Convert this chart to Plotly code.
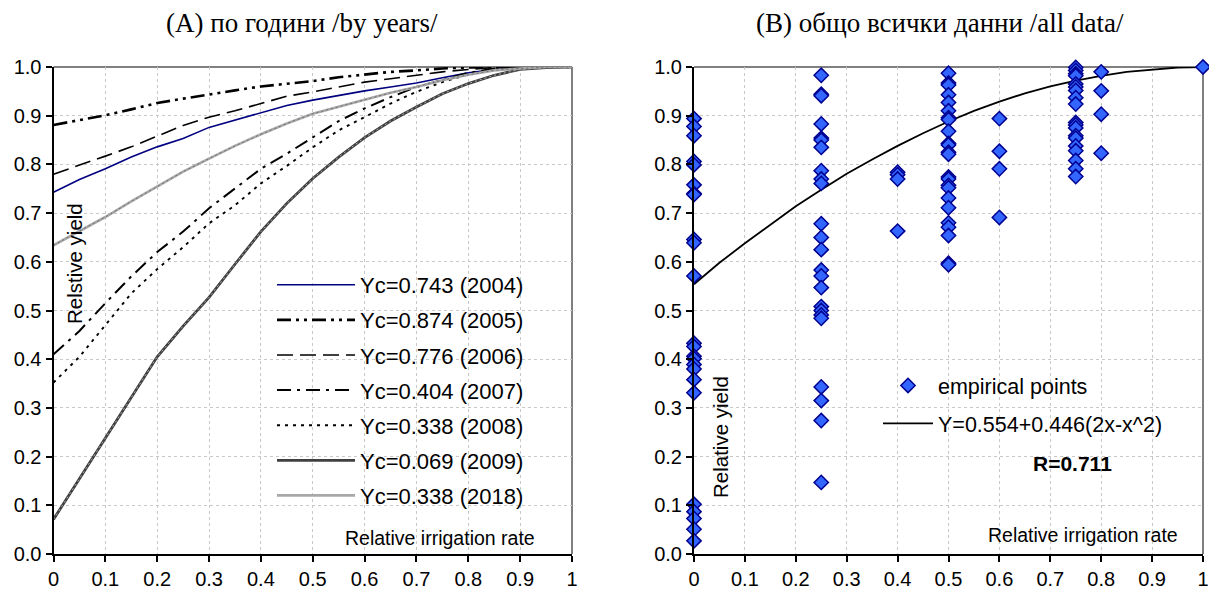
import plotly.graph_objects as go

# ---------------- data ----------------
x_rate = [0.0, 0.05, 0.1, 0.15, 0.2, 0.25, 0.3, 0.35, 0.4, 0.45, 0.5,
          0.55, 0.6, 0.65, 0.7, 0.75, 0.8, 0.85, 0.9, 0.95, 1.0]

y_2004 = [0.743, 0.769, 0.791, 0.815, 0.836, 0.853, 0.876, 0.891, 0.906, 0.921, 0.932,
          0.942, 0.951, 0.959, 0.967, 0.978, 0.988, 0.995, 0.999, 1.0, 1.0]
y_2005 = [0.881, 0.891, 0.901, 0.913, 0.926, 0.935, 0.944, 0.952, 0.960, 0.966, 0.971,
          0.979, 0.985, 0.990, 0.993, 0.997, 0.999, 1.0, 1.0, 1.0, 1.0]
y_2006 = [0.780, 0.798, 0.817, 0.836, 0.858, 0.880, 0.897, 0.910, 0.925, 0.940, 0.949,
          0.959, 0.969, 0.976, 0.983, 0.990, 0.995, 0.999, 1.0, 1.0, 1.0]
y_2007 = [0.410, 0.458, 0.515, 0.570, 0.620, 0.662, 0.710, 0.750, 0.791, 0.822, 0.855,
          0.889, 0.915, 0.938, 0.959, 0.974, 0.988, 0.997, 1.0, 1.0, 1.0]
y_2008 = [0.352, 0.405, 0.470, 0.535, 0.585, 0.630, 0.679, 0.716, 0.761, 0.797, 0.835,
          0.870, 0.897, 0.925, 0.949, 0.969, 0.985, 0.995, 1.0, 1.0, 1.0]
y_2009 = [0.071, 0.155, 0.239, 0.323, 0.405, 0.468, 0.527, 0.595, 0.662, 0.720, 0.771,
          0.815, 0.855, 0.889, 0.918, 0.945, 0.966, 0.983, 0.995, 0.999, 1.0]
y_2018 = [0.634, 0.663, 0.692, 0.724, 0.755, 0.785, 0.812, 0.838, 0.862, 0.884, 0.904,
          0.918, 0.932, 0.947, 0.959, 0.973, 0.984, 0.993, 0.997, 1.0, 1.0]

series_names = ["Yc=0.743 (2004)", "Yc=0.874 (2005)", "Yc=0.776 (2006)", "Yc=0.404 (2007)",
                "Yc=0.338 (2008)", "Yc=0.069 (2009)", "Yc=0.338 (2018)"]

# empirical points (relative irrigation rate, relative yield)
emp_x0 = [0.0] * 24
emp_y0 = [0.894, 0.878, 0.859, 0.806, 0.799, 0.758, 0.740, 0.738, 0.646, 0.639, 0.571,
          0.433, 0.426, 0.406, 0.401, 0.389, 0.380, 0.358, 0.331,
          0.102, 0.087, 0.073, 0.051, 0.027]
emp_x25 = [0.25] * 24
emp_y25 = [0.983, 0.944, 0.941, 0.883, 0.854, 0.850, 0.835, 0.787, 0.770, 0.761, 0.678,
           0.650, 0.625, 0.583, 0.571, 0.547, 0.508, 0.500, 0.491, 0.484,
           0.343, 0.315, 0.274, 0.147]
emp_x40 = [0.4] * 4
emp_y40 = [0.784, 0.779, 0.770, 0.663]
emp_x50 = [0.5] * 24
emp_y50 = [0.987, 0.967, 0.963, 0.943, 0.927, 0.910, 0.896, 0.892, 0.868, 0.843, 0.840,
           0.825, 0.821, 0.774, 0.770, 0.757, 0.752, 0.731, 0.711, 0.680, 0.671, 0.654,
           0.597, 0.594]
emp_x60 = [0.6] * 4
emp_y60 = [0.894, 0.827, 0.791, 0.691]
emp_x75 = [0.75] * 19
emp_y75 = [0.999, 0.993, 0.986, 0.982, 0.965, 0.959, 0.952, 0.937, 0.924, 0.886, 0.881,
           0.875, 0.859, 0.854, 0.838, 0.828, 0.808, 0.791, 0.775]
emp_x80 = [0.8] * 4
emp_y80 = [0.990, 0.951, 0.903, 0.823]
emp_x100 = [1.0]
emp_y100 = [1.0]

fit_y = [0.554, 0.598, 0.638, 0.676, 0.714, 0.748, 0.781, 0.810, 0.838, 0.864, 0.888,
         0.910, 0.929, 0.946, 0.960, 0.972, 0.982, 0.990, 0.995, 0.999, 1.0]

x_ticks = [0, 0.1, 0.2, 0.3, 0.4, 0.5, 0.6, 0.7, 0.8, 0.9, 1.0]
x_ticktext = ["0", "0.1", "0.2", "0.3", "0.4", "0.5", "0.6", "0.7", "0.8", "0.9", "1"]
y_ticks = [0, 0.1, 0.2, 0.3, 0.4, 0.5, 0.6, 0.7, 0.8, 0.9, 1.0]
y_ticktext = ["0.0", "0.1", "0.2", "0.3", "0.4", "0.5", "0.6", "0.7", "0.8", "0.9", "1.0"]

# ---------------- figure ----------------
W, H = 1209, 595
SANS = "Liberation Sans, Arial, sans-serif"
SERIF = "Liberation Serif, Times New Roman, serif"

fig = go.Figure()

styles = [
    dict(color="#000080", width=1.6, dash="solid"),
    dict(color="black", width=2.6, dash="14px,5px,3px,5px,3px,5px"),
    dict(color="black", width=1.6, dash="16px,7px"),
    dict(color="black", width=2.0, dash="14px,6px,3px,6px"),
    dict(color="black", width=1.9, dash="3px,5px"),
    dict(color="#404040", width=2.8, dash="solid"),
    dict(color="#a8a8a8", width=2.6, dash="solid"),
]
texture = {5: "#b0b0b0", 6: "#707070"}
ys = [y_2004, y_2005, y_2006, y_2007, y_2008, y_2009, y_2018]
for i, (nm, yy, st) in enumerate(zip(series_names, ys, styles)):
    fig.add_trace(go.Scatter(x=x_rate, y=yy, mode="lines", name=nm, line=st,
                             xaxis="x", yaxis="y", legend="legend",
                             legendgroup=f"g{i}"))
    if i in texture:
        fig.add_trace(go.Scatter(x=x_rate, y=yy, mode="lines", showlegend=False,
                                 line=dict(color=texture[i], width=1, dash="2px,3px"),
                                 xaxis="x", yaxis="y", legendgroup=f"g{i}",
                                 hoverinfo="skip"))

emp_x = emp_x0 + emp_x25 + emp_x40 + emp_x50 + emp_x60 + emp_x75 + emp_x80 + emp_x100
emp_y = emp_y0 + emp_y25 + emp_y40 + emp_y50 + emp_y60 + emp_y75 + emp_y80 + emp_y100

fig.add_trace(go.Scatter(x=x_rate, y=fit_y, mode="lines", name="Y=0.554+0.446(2x-x^2)",
                         line=dict(color="black", width=1.8),
                         xaxis="x2", yaxis="y2", legend="legend2", legendrank=2,
                         legendgroup="f"))
fig.add_trace(go.Scatter(x=emp_x, y=emp_y, mode="markers", name="empirical points",
                         marker=dict(symbol="diamond", size=11, color="#3366ff",
                                     line=dict(color="#000090", width=1.5)),
                         cliponaxis=False,
                         xaxis="x2", yaxis="y2", legend="legend2", legendrank=1,
                         legendgroup="e"))

dom_y = [1 - 554 / H, 1 - 67 / H]
axis_common = dict(range=[0, 1], showgrid=True, gridcolor="#c8c8c8", griddash="dot",
                   gridwidth=1, showline=True, linecolor="black", linewidth=2,
                   ticks="outside", ticklen=6, tickwidth=2, tickcolor="black",
                   zeroline=False, automargin=False,
                   tickfont=dict(family=SANS, size=20, color="black"),
                   fixedrange=True)

fig.update_layout(
    width=W, height=H, autosize=False,
    margin=dict(l=0, r=0, t=0, b=0, pad=0),
    paper_bgcolor="white", plot_bgcolor="white",
    xaxis=dict(domain=[53.5 / W, 572 / W], anchor="y", tickvals=x_ticks,
               ticktext=x_ticktext, **axis_common),
    yaxis=dict(domain=dom_y, anchor="x", tickvals=y_ticks, ticktext=y_ticktext,
               **axis_common),
    xaxis2=dict(domain=[694 / W, 1203 / W], anchor="y2", tickvals=x_ticks,
                ticktext=x_ticktext, **axis_common),
    yaxis2=dict(domain=dom_y, anchor="x2", tickvals=y_ticks, ticktext=y_ticktext,
                **axis_common),
    legend=dict(x=272 / W, y=1 - 264 / H, xanchor="left", yanchor="top",
                bgcolor="rgba(0,0,0,0)", font=dict(family=SANS, size=22, color="black"),
                traceorder="grouped", tracegroupgap=3.5, itemwidth=78),
    legend2=dict(x=878 / W, y=1 - 365 / H, xanchor="left", yanchor="top",
                 bgcolor="rgba(0,0,0,0)", font=dict(family=SANS, size=21.5, color="black"),
                 traceorder="grouped", tracegroupgap=7, itemwidth=50),
    showlegend=True,
)

# gray top/right plot borders
for xr, yr in (("x domain", "y domain"), ("x2 domain", "y2 domain")):
    fig.add_shape(type="line", xref=xr, yref=yr, x0=0, x1=1, y0=1, y1=1,
                  line=dict(color="#808080", width=2), layer="below")
    fig.add_shape(type="line", xref=xr, yref=yr, x0=1, x1=1, y0=0, y1=1,
                  line=dict(color="#808080", width=2), layer="below")

def ann(text, x, y, size=20, family=SANS, angle=0, bold=False, xanchor="center"):
    fig.add_annotation(text=f"<b>{text}</b>" if bold else text,
                       x=x / W, y=1 - y / H, xref="paper", yref="paper",
                       showarrow=False, textangle=angle, xanchor=xanchor, yanchor="middle",
                       font=dict(family=family, size=size, color="black"))

ann("(A) по години /by years/", 302, 23, size=27, family=SERIF)
ann("(B) общо всички данни /all data/", 940, 23, size=27, family=SERIF)
ann("Relstive yield", 74, 264, size=20.5, angle=-90)
ann("Relative irrigation rate", 440, 538, size=19.5)
ann("Relative yield", 720, 437, size=20.5, angle=-90)
ann("Relative irrigation rate", 1083, 535, size=19.5)
ann("R=0.711", 1072, 463, size=21, bold=True)

fig.write_html("out.html")
